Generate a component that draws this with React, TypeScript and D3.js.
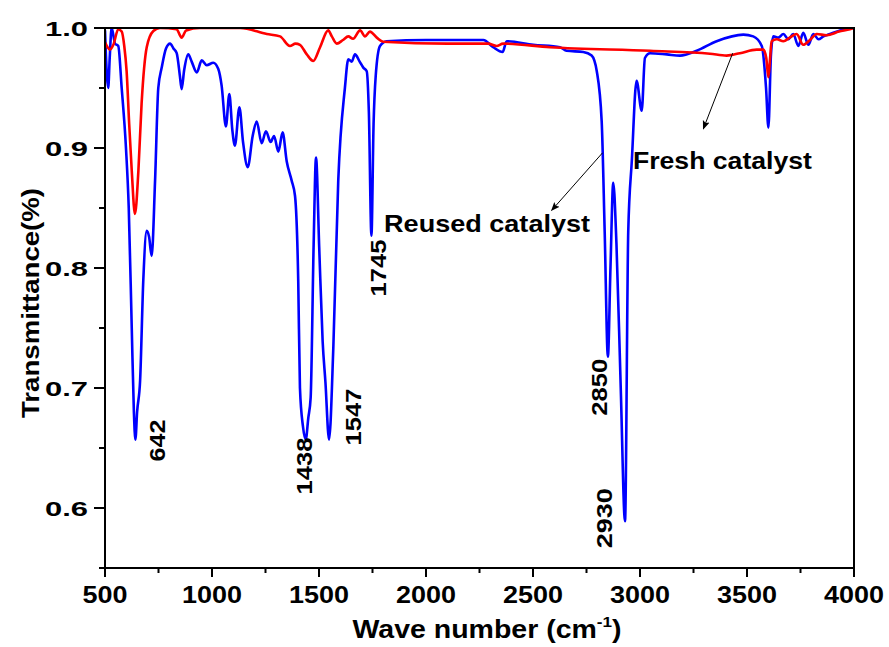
import React from "react";
import * as d3 from "d3";

// FTIR spectra: reused catalyst (blue) and fresh catalyst (red)
const reusedWn = [
  500, 509, 515, 522, 531, 547, 562, 578, 598, 611, 625, 635, 642, 650, 664, 679, 695, 706, 718, 734,
  749, 765, 785, 804, 820, 835, 850, 858, 870, 889, 905, 929, 952, 975, 1006, 1029, 1045, 1065, 1081, 1095,
  1107, 1128, 1145, 1167, 1190, 1209, 1232, 1252, 1274, 1290, 1310, 1330, 1349, 1372, 1388, 1403, 1411, 1425, 1438, 1450,
  1461, 1475, 1486, 1501, 1517, 1530, 1547, 1567, 1590, 1621, 1637, 1653, 1668, 1690, 1707, 1723, 1733, 1745, 1755, 1765,
  1785, 1816, 2000, 2268, 2314, 2358, 2377, 2501, 2626, 2657, 2735, 2774, 2798, 2821, 2835, 2850, 2862, 2875, 2890, 2910,
  2930, 2945, 2962, 2984, 3008, 3023, 3047, 3125, 3187, 3265, 3358, 3483, 3529, 3569, 3589, 3600, 3612, 3623, 3646, 3670,
  3693, 3716, 3740, 3763, 3787, 3810, 3834, 3857, 3888, 3935, 4000,
];
const reusedT = [
  0.998, 0.96, 0.95, 0.975, 1.0, 0.987, 0.985, 0.95, 0.9, 0.85, 0.75, 0.68, 0.657, 0.68, 0.706, 0.79, 0.831, 0.826, 0.81, 0.873,
  0.95, 0.967, 0.983, 0.987, 0.983, 0.979, 0.96, 0.949, 0.965, 0.978, 0.972, 0.963, 0.973, 0.969, 0.971, 0.966, 0.952, 0.918, 0.945, 0.915,
  0.902, 0.934, 0.905, 0.884, 0.91, 0.922, 0.904, 0.914, 0.905, 0.91, 0.897, 0.913, 0.889, 0.873, 0.86, 0.789, 0.7, 0.668, 0.657, 0.675,
  0.692, 0.82, 0.892, 0.817, 0.739, 0.705, 0.657, 0.734, 0.873, 0.95, 0.974, 0.972, 0.978, 0.972, 0.967, 0.964, 0.93, 0.827, 0.92, 0.96,
  0.985, 0.989, 0.99, 0.99, 0.984, 0.98, 0.989, 0.986, 0.984, 0.981, 0.98, 0.977, 0.964, 0.922, 0.83, 0.726, 0.8, 0.871, 0.82, 0.7,
  0.589, 0.83, 0.89, 0.956, 0.931, 0.975, 0.979, 0.978, 0.977, 0.981, 0.989, 0.9945, 0.993, 0.985, 0.95, 0.917, 0.978, 0.993, 0.992, 0.995,
  0.9906, 0.995, 0.985, 0.996, 0.986, 0.995, 0.9906, 0.993, 0.995, 0.998, 1.0,
];

const freshWn = [
  500, 512, 523, 539, 562, 578, 590, 601, 613, 625, 640, 656, 671, 695, 726, 757, 835, 850, 858, 879,
  944, 1131, 1256, 1318, 1364, 1390, 1411, 1443, 1473, 1505, 1543, 1560, 1583, 1612, 1637, 1659, 1692, 1715, 1738, 1770,
  1800, 2100, 2290, 2330, 2360, 2579, 3047, 3327, 3405, 3467, 3545, 3576, 3590, 3600, 3608, 3615, 3639, 3670, 3700, 3732,
  3763, 3794, 3826, 3872, 3930, 3981, 4000,
];
const freshT = [
  0.988, 0.984, 0.982, 0.986, 0.999, 0.997, 0.985, 0.964, 0.92, 0.881, 0.845, 0.881, 0.937, 0.984, 0.9975, 1.0, 0.999, 0.994, 0.992, 0.998,
  1.0, 1.0, 0.995, 0.993, 0.985, 0.987, 0.986, 0.978, 0.9725, 0.984, 0.998, 0.993, 0.987, 0.99, 0.993, 0.991, 0.998, 0.993, 0.997, 0.992,
  0.9886, 0.987, 0.987, 0.985, 0.987, 0.984, 0.981, 0.9786, 0.977, 0.979, 0.982, 0.982, 0.975, 0.959, 0.975, 0.989, 0.9906, 0.989, 0.992, 0.995,
  0.986, 0.99, 0.995, 0.994, 0.997, 0.999, 1.0,
];

// Labelled absorption bands of the reused catalyst
const peakWn = [642, 1438, 1547, 1745, 2850, 2930];
const peakT = [0.657, 0.657, 0.657, 0.827, 0.726, 0.589];
// label placement: [dx from band, dy below band minimum, text length]
const peakLabelLayout = [
  [30, 22, 42],
  [6, 55, 57],
  [32, 6, 57],
  [15, 61, 57],
  [-1, 59, 57],
  [-13, 27, 60],
];

const xTicks = [500, 1000, 1500, 2000, 2500, 3000, 3500, 4000];
const xMinorTicks = [750, 1250, 1750, 2250, 2750, 3250, 3750];
const yTicks = [0.6, 0.7, 0.8, 0.9, 1.0];
const yMinorTicks = [0.55, 0.65, 0.75, 0.85, 0.95];

const FONT = "'Liberation Sans', Arial, Helvetica, sans-serif";

export default function App() {
  const width = 889;
  const height = 647;
  const left = 105;
  const right = 854;
  const top = 28;
  const bottom = 568;

  const x = d3.scaleLinear().domain([500, 4000]).range([left, right]);
  const y = d3.scaleLinear().domain([0.55, 1.0]).range([bottom, top]);

  const line = d3
    .line<[number, number]>()
    .x((d) => x(d[0]))
    .y((d) => y(d[1]))
    .curve(d3.curveMonotoneX);

  const reused: [number, number][] = reusedWn.map((w, i) => [w, reusedT[i]]);
  const fresh: [number, number][] = freshWn.map((w, i) => [w, freshT[i]]);

  // annotation anchors in data units
  const reusedArrow = { from: [2825, 0.896], to: [2587, 0.848] };
  const freshArrow = { from: [3433, 0.979], to: [3296, 0.916] };
  const reusedText = [1804, 0.83];
  const freshText = [2967, 0.8825];

  return (
    <svg width={width} height={height} style={{ display: "block", position: "absolute", left: 0, top: 0 }}>
      <defs>
        <clipPath id="plot-clip">
          <rect x={left} y={top - 1} width={right - left} height={bottom - top + 1} />
        </clipPath>
        <marker id="arrowhead" viewBox="0 0 10 10" refX="9" refY="5" markerWidth="9" markerHeight="9" orient="auto" markerUnits="userSpaceOnUse">
          <path d="M0,1 L10,5 L0,9 L2,5 Z" fill="#000" />
        </marker>
      </defs>
      <rect x={0} y={0} width={width} height={height} fill="#fff" />

      <g clipPath="url(#plot-clip)">
        <path d={line(reused) || ""} fill="none" stroke="#0000ff" strokeWidth={2.6} strokeLinejoin="round" />
        <path d={line(fresh) || ""} fill="none" stroke="#ff0000" strokeWidth={2.6} strokeLinejoin="round" />
      </g>

      {/* frame */}
      <rect x={left} y={top} width={right - left} height={bottom - top} fill="none" stroke="#000" strokeWidth={2} />

      {/* x axis ticks */}
      {xTicks.map((t) => (
        <line key={"xt" + t} x1={x(t)} x2={x(t)} y1={bottom} y2={bottom + 9} stroke="#000" strokeWidth={2} />
      ))}
      {xMinorTicks.map((t) => (
        <line key={"xm" + t} x1={x(t)} x2={x(t)} y1={bottom} y2={bottom + 5} stroke="#000" strokeWidth={2} />
      ))}
      {xTicks.map((t) => (
        <text
          key={"xl" + t}
          x={x(t)}
          y={603}
          textAnchor="middle"
          fontFamily={FONT}
          fontWeight="bold"
          fontSize={23}
          textLength={String(t).length * 15}
          lengthAdjust="spacingAndGlyphs"
        >
          {t}
        </text>
      ))}

      {/* y axis ticks */}
      {yTicks.map((t) => (
        <line key={"yt" + t} x1={left - 11} x2={left} y1={y(t)} y2={y(t)} stroke="#000" strokeWidth={2} />
      ))}
      {yMinorTicks.map((t) => (
        <line key={"ym" + t} x1={left - 6} x2={left} y1={y(t)} y2={y(t)} stroke="#000" strokeWidth={2} />
      ))}
      {yTicks.map((t) => (
        <text
          key={"yl" + t}
          x={88}
          y={y(t) + 8}
          textAnchor="end"
          fontFamily={FONT}
          fontWeight="bold"
          fontSize={21}
          textLength={43}
          lengthAdjust="spacingAndGlyphs"
        >
          {t.toFixed(1)}
        </text>
      ))}

      {/* axis titles */}
      <g transform={`translate(487,638) scale(1.14,1)`}>
        <text textAnchor="middle" fontFamily={FONT} fontWeight="bold" fontSize={25}>
          Wave number (cm
          <tspan fontSize={15} dy={-11}>-1</tspan>
          <tspan dy={11}>)</tspan>
        </text>
      </g>
      <text
        transform="translate(39,303) rotate(-90)"
        textAnchor="middle"
        fontFamily={FONT}
        fontWeight="bold"
        fontSize={24}
        textLength={230}
        lengthAdjust="spacingAndGlyphs"
      >
        Transmittance(%)
      </text>

      {/* band labels */}
      {peakWn.map((w, i) => {
        const [dx, dy, len] = peakLabelLayout[i];
        const px = x(w) + dx;
        const py = y(peakT[i]) + dy;
        return (
          <text
            key={"pk" + w}
            transform={`translate(${px},${py}) rotate(-90)`}
            fontFamily={FONT}
            fontWeight="bold"
            fontSize={22}
            textLength={len}
            lengthAdjust="spacingAndGlyphs"
          >
            {w}
          </text>
        );
      })}

      {/* annotations */}
      <line
        x1={x(reusedArrow.from[0])}
        y1={y(reusedArrow.from[1])}
        x2={x(reusedArrow.to[0])}
        y2={y(reusedArrow.to[1])}
        stroke="#000"
        strokeWidth={1}
        markerEnd="url(#arrowhead)"
      />
      <line
        x1={x(freshArrow.from[0])}
        y1={y(freshArrow.from[1])}
        x2={x(freshArrow.to[0])}
        y2={y(freshArrow.to[1])}
        stroke="#000"
        strokeWidth={1}
        markerEnd="url(#arrowhead)"
      />
      <text
        x={x(reusedText[0])}
        y={y(reusedText[1])}
        fontFamily={FONT}
        fontWeight="bold"
        fontSize={24}
        textLength={206}
        lengthAdjust="spacingAndGlyphs"
      >
        Reused catalyst
      </text>
      <text
        x={x(freshText[0])}
        y={y(freshText[1])}
        fontFamily={FONT}
        fontWeight="bold"
        fontSize={24}
        textLength={179}
        lengthAdjust="spacingAndGlyphs"
      >
        Fresh catalyst
      </text>
    </svg>
  );
}
